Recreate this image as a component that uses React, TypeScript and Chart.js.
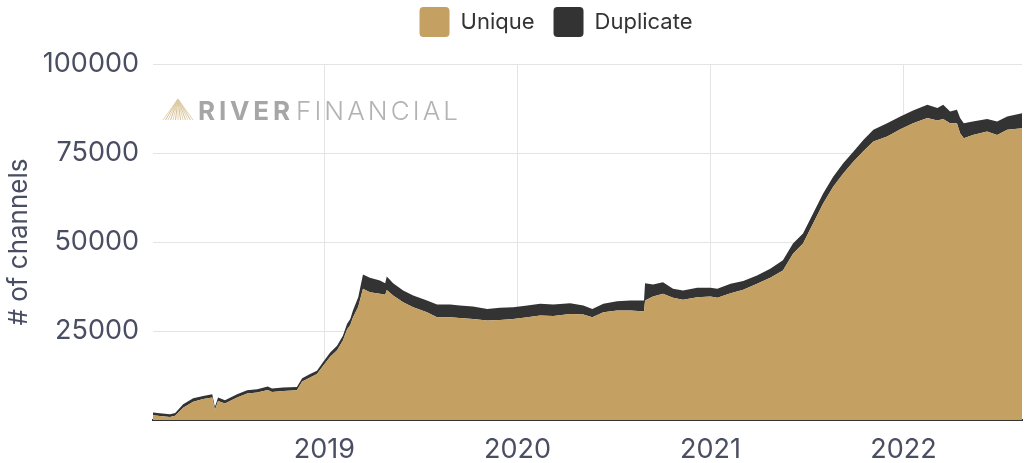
import React, { useEffect, useRef } from 'react';
import { Chart, registerables } from 'chart.js';

Chart.register(...registerables);

const dates = [
  '2018-02-11', '2018-02-24', '2018-03-15', '2018-03-25', '2018-04-09', '2018-04-28', '2018-05-17', '2018-06-03',
  '2018-06-08', '2018-06-14', '2018-06-27', '2018-07-20', '2018-08-08', '2018-08-27', '2018-09-16', '2018-09-24',
  '2018-10-15', '2018-11-10', '2018-11-20', '2018-12-05', '2018-12-18', '2018-12-29', '2019-01-12', '2019-01-25',
  '2019-02-05', '2019-02-13', '2019-02-19', '2019-02-24', '2019-03-06', '2019-03-15', '2019-03-28', '2019-04-16',
  '2019-04-26', '2019-04-29', '2019-05-11', '2019-05-30', '2019-06-18', '2019-07-14', '2019-08-02', '2019-08-27',
  '2019-09-14', '2019-10-09', '2019-11-05', '2019-11-29', '2019-12-24', '2020-01-20', '2020-02-13', '2020-03-09',
  '2020-04-10', '2020-05-05', '2020-05-22', '2020-06-12', '2020-07-08', '2020-08-02', '2020-08-24', '2020-08-28',
  '2020-08-30', '2020-09-14', '2020-10-03', '2020-10-22', '2020-11-10', '2020-12-07', '2021-01-01', '2021-01-14',
  '2021-02-08', '2021-03-04', '2021-03-30', '2021-04-24', '2021-05-18', '2021-06-06', '2021-06-25', '2021-07-14',
  '2021-08-02', '2021-08-21', '2021-09-09', '2021-09-28', '2021-10-17', '2021-11-05', '2021-12-01', '2021-12-26',
  '2022-01-19', '2022-02-15', '2022-03-06', '2022-03-17', '2022-03-30', '2022-04-12', '2022-04-18', '2022-04-25',
  '2022-05-12', '2022-06-08', '2022-06-27', '2022-07-16', '2022-08-13',
];

const uniqueChannels = [
  1300, 1100, 850, 1200, 3470, 5160, 5920, 6290,
  2800, 5360, 4600, 6290, 7420, 7700, 8460, 7900,
  8180, 8370, 10800, 11930, 12890, 15100, 17800, 19600,
  22300, 25500, 26700, 28800, 31800, 36850, 35900, 35450,
  35170, 36500, 35000, 33080, 31670, 30260, 28850, 28850,
  28680, 28400, 27920, 28120, 28400, 28850, 29330, 29200,
  29800, 29610, 28850, 30260, 30740, 30740, 30540, 30600,
  33560, 34690, 35450, 34320, 33750, 34490, 34690, 34320,
  35620, 36570, 38260, 39960, 42020, 46730, 49550, 55190,
  60830, 65510, 69270, 72560, 75500, 78200, 79610, 81690,
  83380, 84800, 84120, 84520, 83380, 83380, 80570, 79160,
  80090, 81020, 80090, 81500, 81970,
];

const duplicateChannels = [
  800, 800, 750, 800, 960, 940, 850, 950,
  870, 930, 950, 950, 950, 950, 940, 930,
  930, 930, 960, 960, 930, 1060, 1180, 1270,
  1390, 1570, 1700, 1940, 2690, 4040, 4060, 3750,
  3270, 3830, 3440, 3300, 3300, 3300, 3580, 3580,
  3470, 3470, 3290, 3380, 3270, 3300, 3290, 3230,
  3000, 2540, 2360, 2360, 2620, 2820, 3020, 3000,
  4880, 3380, 3270, 2530, 2630, 2650, 2450, 2530,
  2640, 2450, 2350, 2530, 2820, 2820, 2820, 2820,
  2820, 2820, 2820, 2820, 3180, 3300, 3770, 3560,
  3560, 3750, 3500, 4030, 3280, 3760, 4230, 4220,
  3760, 3500, 3760, 3750, 4230,
];

const yearTicks = [2019, 2020, 2021, 2022];
const yTickValues = [0, 25000, 50000, 75000, 100000];
const seriesNames = ['Unique', 'Duplicate'];

const UNIQUE_COLOR = '#c4a063';
const DUP_COLOR = '#333333';
const TEXT_COLOR = '#4a4e62';
const GRID_COLOR = '#e4e4e4';

// The canvas is shifted up by this many pixels so the legend can sit close to the top edge
const TOP_SHIFT = 12;

function toYear(d: string): number {
  const [y, m, dd] = d.split('-').map(Number);
  const start = Date.UTC(y, 0, 1);
  const end = Date.UTC(y + 1, 0, 1);
  return y + (Date.UTC(y, m - 1, dd) - start) / (end - start);
}

function drawSpaced(ctx: CanvasRenderingContext2D, text: string, x: number, y: number, width: number, font: string, color: string) {
  ctx.font = font;
  ctx.fillStyle = color;
  ctx.textBaseline = 'alphabetic';
  ctx.textAlign = 'left';
  const chars = text.split('');
  const widths = chars.map((c) => ctx.measureText(c).width);
  const total = widths.reduce((a, b) => a + b, 0);
  const gap = chars.length > 1 ? (width - total) / (chars.length - 1) : 0;
  let cx = x;
  chars.forEach((c, i) => {
    ctx.fillText(c, cx, y);
    cx += widths[i] + gap;
  });
}

const watermarkPlugin = {
  id: 'watermark',
  beforeDraw(chart: any) {
    const { ctx, chartArea } = chart;
    if (!chartArea) return;
    const x0 = chartArea.left + 10;
    const baseY = chartArea.top + 56;
    ctx.save();
    const apexX = x0 + 15;
    const apexY = baseY - 21;
    ctx.lineWidth = 1;
    for (let i = 0; i <= 12; i++) {
      ctx.strokeStyle = i % 2 === 0 ? '#e2d3b2' : '#d6c194';
      ctx.beginPath();
      ctx.moveTo(apexX, apexY);
      ctx.lineTo(x0 + i * 2.5, baseY);
      ctx.stroke();
    }
    drawSpaced(ctx, 'RIVER', chartArea.left + 45, baseY, 92, 'bold 26px Inter', '#a6a6a6');
    drawSpaced(ctx, 'FINANCIAL', chartArea.left + 143, baseY, 162, '300 26px Inter', '#b3b3b3');
    ctx.restore();
  },
};

const legendLayoutPlugin = {
  id: 'legendLayout',
  beforeInit(chart: any) {
    const legend = chart.legend;
    if (!legend) return;
    const origFit = legend.fit;
    legend.fit = function () {
      origFit.call(this);
      this.height = 64 + TOP_SHIFT;
    };
  },
  afterLayout(chart: any) {
    const legend = chart.legend;
    if (!legend) return;
    legend.left += 45;
    legend.right += 45;
  },
};

export default function App() {
  const canvasRef = useRef<HTMLCanvasElement | null>(null);

  useEffect(() => {
    if (!canvasRef.current) return;
    const xs = dates.map(toYear);
    const chart = new Chart(canvasRef.current, {
      type: 'line',
      data: {
        datasets: [
          {
            label: seriesNames[0],
            data: xs.map((x, i) => ({ x, y: uniqueChannels[i] })),
            backgroundColor: UNIQUE_COLOR,
            borderColor: UNIQUE_COLOR,
            borderWidth: 0,
            pointRadius: 0,
            fill: 'origin',
            tension: 0,
          },
          {
            label: seriesNames[1],
            data: xs.map((x, i) => ({ x, y: duplicateChannels[i] })),
            backgroundColor: DUP_COLOR,
            borderColor: DUP_COLOR,
            borderWidth: 0,
            pointRadius: 0,
            fill: '-1',
            tension: 0,
          },
        ],
      },
      plugins: [watermarkPlugin, legendLayoutPlugin],
      options: {
        animation: false,
        responsive: true,
        maintainAspectRatio: false,
        layout: { padding: { top: 0, right: 3, left: 0, bottom: 0 } },
        plugins: {
          legend: {
            display: true,
            position: 'top',
            labels: {
              color: '#333333',
              font: { family: 'Inter', size: 22 },
              boxWidth: 30,
              boxHeight: 30,
              useBorderRadius: true,
              borderRadius: 4,
              padding: 19,
            },
          },
          tooltip: { enabled: false },
        },
        scales: {
          x: {
            type: 'linear',
            min: xs[0],
            max: xs[xs.length - 1],
            afterBuildTicks: (scale: any) => {
              scale.ticks = yearTicks.map((v) => ({ value: v }));
            },
            afterFit: (scale: any) => {
              scale.height = 43;
            },
            ticks: {
              color: TEXT_COLOR,
              font: { family: 'Inter', size: 27 },
              padding: 14,
              maxRotation: 0,
              callback: (v: any) => String(v),
            },
            grid: { color: GRID_COLOR, drawTicks: false },
            border: { display: true, color: '#333333', width: 2 },
          },
          y: {
            stacked: true,
            min: 0,
            max: 100000,
            afterBuildTicks: (scale: any) => {
              scale.ticks = yTickValues.map((v) => ({ value: v }));
            },
            afterFit: (scale: any) => {
              scale.width = 153;
            },
            ticks: {
              color: TEXT_COLOR,
              font: { family: 'Inter', size: 27 },
              padding: 14,
              callback: (v: any) => (v === 0 ? '' : String(v)),
            },
            grid: { color: GRID_COLOR, drawTicks: false },
            border: { display: false },
            title: {
              display: true,
              text: '# of channels',
              color: TEXT_COLOR,
              font: { family: 'Inter', size: 26 },
              padding: { top: 4, bottom: 4 },
            },
          },
        },
      },
    });
    return () => chart.destroy();
  }, []);

  return (
    <div style={{ position: 'fixed', left: 0, top: -TOP_SHIFT, width: 1025, height: 463 + TOP_SHIFT, background: '#ffffff' }}>
      <canvas ref={canvasRef} />
    </div>
  );
}
